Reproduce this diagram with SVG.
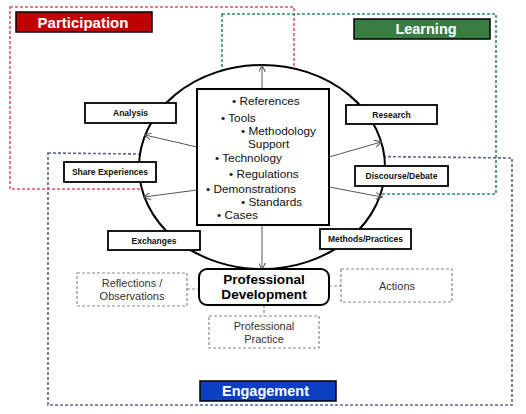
<svg xmlns="http://www.w3.org/2000/svg" width="526" height="414" viewBox="0 0 526 414">
<style>
.zone{fill:none;stroke-width:1.6;stroke-dasharray:3 2}
.lbl{fill:#fff;stroke:#000;stroke-width:1.8}
.lt{font-family:"Liberation Sans",Arial,sans-serif;font-weight:bold;font-size:8.5px;fill:#111;text-anchor:middle}
.li{font-family:"Liberation Sans",Arial,sans-serif;font-size:11.8px;fill:#111}
.hd{font-family:"Liberation Sans",Arial,sans-serif;font-weight:bold;fill:#fff;text-anchor:middle}
.pd{font-family:"Liberation Sans",Arial,sans-serif;font-weight:bold;font-size:13.6px;fill:#000;text-anchor:middle}
.db{fill:#fff;stroke:#888;stroke-width:1.2;stroke-dasharray:3 2}
.dt{font-family:"Liberation Sans",Arial,sans-serif;font-size:11px;fill:#3a3030;text-anchor:middle}
.con{stroke:#555;stroke-width:1;fill:none}
.dc{stroke:#888;stroke-width:1.2;stroke-dasharray:3 2;fill:none}
</style>
<defs>
<marker id="ah" viewBox="0 0 10 10" refX="9" refY="5" markerWidth="7" markerHeight="7" orient="auto" markerUnits="userSpaceOnUse">
<path d="M0,0 L10,5 L0,10" fill="none" stroke="#555" stroke-width="1.5"/>
</marker>
</defs>
<rect width="526" height="414" fill="#fff"/>
<g id="zones">
<path class="zone" stroke="#e05565" d="M10,7 H294 V189 H10 Z"/>
<path class="zone" stroke="#2f8f6a" d="M222,14 H496 V194 H222 Z"/>
<path class="zone" stroke="#5a6890" d="M48,153 L512,158 L512,405 L48,405 Z"/>
</g>
<g id="circle">
<ellipse cx="262" cy="167" rx="123" ry="102" fill="#fff" stroke="#000" stroke-width="2"/>
</g>
<g id="connectors">
<line class="con" x1="262" y1="89" x2="262" y2="66" marker-end="url(#ah)"/>
<line class="con" x1="197" y1="147" x2="145" y2="135" marker-end="url(#ah)"/>
<line class="con" x1="197" y1="190" x2="144" y2="197" marker-end="url(#ah)"/>
<line class="con" x1="329" y1="157" x2="381" y2="142" marker-end="url(#ah)"/>
<line class="con" x1="329" y1="187" x2="382" y2="197" marker-end="url(#ah)"/>
<line class="con" x1="262" y1="225" x2="262" y2="269" marker-end="url(#ah)"/>
<line class="dc" x1="187" y1="289" x2="199" y2="289"/>
<line class="dc" x1="329" y1="286" x2="341" y2="286"/>
<line class="dc" x1="264" y1="305" x2="264" y2="316"/>
</g>
<g id="resources">
<rect x="197" y="89" width="132" height="136" fill="#fff" stroke="#000" stroke-width="2"/>
<text class="li" x="232" y="105">• References</text>
<text class="li" x="221" y="122">• Tools</text>
<text class="li" x="241" y="134.5">• Methodology</text>
<text class="li" x="248" y="147.5">Support</text>
<text class="li" x="215" y="161.5">• Technology</text>
<text class="li" x="229" y="178">• Regulations</text>
<text class="li" x="206" y="193">• Demonstrations</text>
<text class="li" x="241" y="206">• Standards</text>
<text class="li" x="217" y="218.5">• Cases</text>
</g>
<g id="analysis"><rect class="lbl" x="85" y="103" width="91" height="20"/><text class="lt" x="130.5" y="116">Analysis</text></g>
<g id="share-experiences"><rect class="lbl" x="64" y="162" width="92" height="20"/><text class="lt" x="110" y="175">Share Experiences</text></g>
<g id="research"><rect class="lbl" x="346" y="105" width="91" height="19"/><text class="lt" x="391.5" y="117.5">Research</text></g>
<g id="discourse-debate"><rect class="lbl" x="355" y="166" width="93" height="20"/><text class="lt" x="401.5" y="179">Discourse/Debate</text></g>
<g id="exchanges"><rect class="lbl" x="108" y="231" width="92" height="19"/><text class="lt" x="154" y="243.5">Exchanges</text></g>
<g id="methods-practices"><rect class="lbl" x="320" y="229" width="91" height="20"/><text class="lt" x="365.5" y="242">Methods/Practices</text></g>
<g id="professional-development">
<rect x="199" y="269" width="130" height="36" rx="8" fill="#fff" stroke="#000" stroke-width="2"/>
<text class="pd" x="264" y="284">Professional</text>
<text class="pd" x="264" y="298.5">Development</text>
</g>
<g id="reflections">
<rect class="db" x="77" y="273" width="110" height="33"/>
<text class="dt" x="132" y="287">Reflections /</text>
<text class="dt" x="132" y="299.5">Observations</text>
</g>
<g id="actions">
<rect class="db" x="341" y="269" width="111" height="33"/>
<text class="dt" x="397" y="289.5">Actions</text>
</g>
<g id="professional-practice">
<rect class="db" x="209" y="316" width="110" height="32"/>
<text class="dt" x="264" y="330">Professional</text>
<text class="dt" x="264" y="342.5">Practice</text>
</g>
<g id="participation"><rect x="16" y="12" width="136" height="20" fill="#c00000" stroke="#000" stroke-width="1.5"/><text class="hd" x="83" y="27.5" font-size="15">Participation</text></g>
<g id="learning"><rect x="354" y="19" width="136" height="20" fill="#3a7d44" stroke="#000" stroke-width="1.5"/><text class="hd" x="426" y="34" font-size="14.5">Learning</text></g>
<g id="engagement"><rect x="200" y="381" width="136" height="20" fill="#0d3fc2" stroke="#000" stroke-width="1.5"/><text class="hd" x="265.5" y="396" font-size="14.5">Engagement</text></g>
</svg>
